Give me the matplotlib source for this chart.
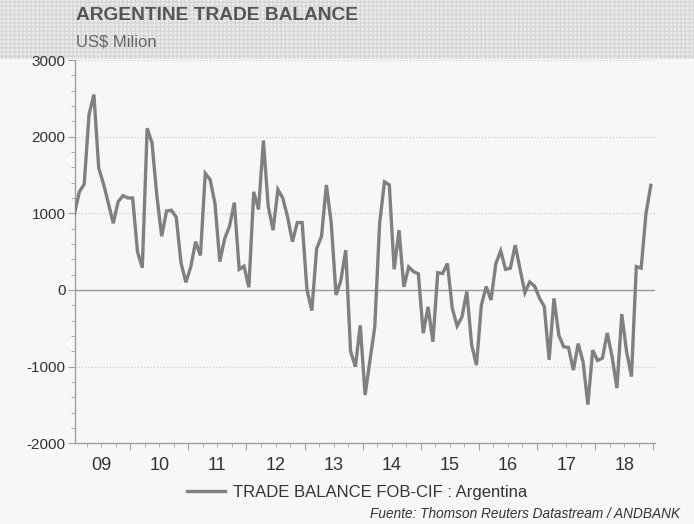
import matplotlib
matplotlib.use("Agg")
import matplotlib.pyplot as plt
from matplotlib.patches import Rectangle
from matplotlib.lines import Line2D
import matplotlib.transforms as mtransforms
import numpy as np

plt.rcParams['font.family'] = ['Liberation Sans', 'DejaVu Sans']

# Monthly trade balance, Jan 2009 .. Dec 2018 (US$ million)
start_year = 2009
values = [
    1000, 1280, 1380, 2290, 2550, 1590, 1380, 1130, 870, 1150, 1230, 1200,
    1200, 500, 290, 2110, 1920, 1230, 700, 1030, 1040, 950, 350, 100,
    300, 630, 450, 1520, 1440, 1130, 370, 670, 830, 1140, 270, 310,
    35, 1280, 1050, 1950, 1090, 780, 1310, 1200, 950, 630, 880, 880,
    0, -270, 540, 700, 1370, 880, -65, 125, 520, -800, -1000, -460,
    -1370, -920, -480, 870, 1410, 1370, 270, 780, 40, 300, 240, 210,
    -565, -220, -675, 225, 215, 345, -240, -470, -350, -20, -715, -980,
    -200, 45, -130, 345, 510, 270, 285, 585, 270, -35, 105, 50,
    -105, -215, -910, -110, -590, -740, -750, -1045, -700, -935, -1495, -785,
    -920, -890, -560, -870, -1280, -315, -805, -1130, 305, 285, 1000, 1365,
]
year_labels = ['09', '10', '11', '12', '13', '14', '15', '16', '17', '18']
y_ticks = [-2000, -1000, 0, 1000, 2000, 3000]
title = 'ARGENTINE TRADE BALANCE'
subtitle = 'US$ Milion'
series_name = 'TRADE BALANCE FOB-CIF : Argentina'
source = 'Fuente: Thomson Reuters Datastream / ANDBANK'

W, H = 694, 524
fig = plt.figure(figsize=(W / 100, H / 100), dpi=100)
bg = '#f7f7f7'
fig.patch.set_facecolor(bg)

# textured header band
hdr_top = 59
fig.patches.append(Rectangle((0, 1 - hdr_top / H), 1, hdr_top / H, transform=fig.transFigure,
                             facecolor='#ebebeb', edgecolor='#d6d6d6', hatch='++++', linewidth=0,
                             zorder=-5))

ax = fig.add_axes([75 / W, 1 - 443.3 / H, (655 - 75) / W, (443.3 - 60) / H])
ax.set_facecolor(bg)
ax.set_zorder(1)

x = start_year + (np.arange(len(values)) + 0.5) / 12.0
ax.plot(x, values, color='#808080', lw=2.4, solid_joinstyle='miter', zorder=3)

ax.set_xlim(2009.05, 2019.03)
ax.set_ylim(-2000, 3000)

# grid
for v in y_ticks:
    if v == 0:
        ax.axhline(v, color='#9a9a9a', lw=1.0, zorder=2)
    elif v != -2000:
        ax.axhline(v, color='#cfcfcf', lw=0.9, ls=(0, (1, 1.5)), zorder=1)

for s in ['top', 'right']:
    ax.spines[s].set_visible(False)
for s in ['left', 'bottom']:
    ax.spines[s].set_color('#a0a0a0')
    ax.spines[s].set_linewidth(1.0)

ax.set_yticks(y_ticks)
ax.set_yticklabels([str(v) for v in y_ticks])
ax.set_yticks(np.arange(-2000, 3001, 200), minor=True)
ax.tick_params(axis='y', which='major', length=5, color='#a0a0a0', labelsize=11,
               labelcolor='#333333', pad=1.8)
ax.tick_params(axis='y', which='minor', length=3, color='#a0a0a0')
for lab in ax.get_yticklabels():
    lab.set_clip_on(False)

years = np.arange(start_year + 1, start_year + 11)
ax.set_xticks(years)
ax.set_xticklabels([''] * len(years))
ax.set_xticks(np.arange(2009.25, 2019.01, 0.25), minor=True)
ax.tick_params(axis='x', which='major', length=5, color='#a0a0a0')
ax.tick_params(axis='x', which='minor', length=3, color='#a0a0a0')

trans = mtransforms.blended_transform_factory(ax.transData, fig.transFigure)
for i, lab in enumerate(year_labels):
    ax.text(start_year + i + 0.5, 1 - 465 / H, lab, transform=trans, ha='center', va='center',
            fontsize=13, color='#333333')

fig.text(76 / W, 1 - 16 / H, title, fontsize=13.8, fontweight='bold', color='#555555',
         va='center', ha='left')
fig.text(76 / W, 1 - 42 / H, subtitle, fontsize=12, color='#666666', va='center', ha='left')

handle = Line2D([], [], color='#808080', lw=2.4)
fig.legend([handle], [series_name], loc='center', bbox_to_anchor=(357 / W, 1 - 492 / H),
           frameon=False, fontsize=12, handlelength=2.3, handletextpad=0.5,
           labelcolor='#333333')

fig.text(680 / W, 1 - 514 / H, source, fontsize=9.8, style='italic', color='#333333',
         ha='right', va='center')

fig.savefig('out.png', dpi=100, facecolor=fig.get_facecolor())
